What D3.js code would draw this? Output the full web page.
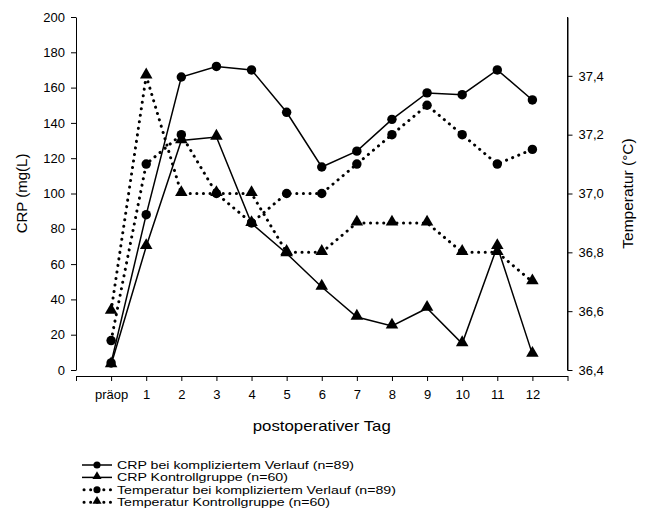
<!DOCTYPE html>
<html>
<head>
<meta charset="utf-8">
<script src="https://cdn.jsdelivr.net/npm/d3@7"></script>
<style>
  body { margin: 0; background: #fff; }
  svg text { font-family: "Liberation Sans", Arial, sans-serif; fill: #000; }
  .axis path, .axis line { stroke: #000; stroke-width: 1; }
</style>
</head>
<body>
<script>
// categories on the x axis
var days = ['präop', '1', '2', '3', '4', '5', '6', '7', '8', '9', '10', '11', '12'];

// CRP (mg/L), left axis
var crpKompl   = [4, 88, 166, 172, 170, 146, 115, 124, 142, 157, 156, 170, 153];
var crpKontr   = [3, 70, 130, 132, 83, 66, 47, 30, 25, 35, 15, 70, 9];

// Temperatur (°C), right axis
var tempKompl  = [36.5, 37.1, 37.2, 37.0, 36.9, 37.0, 37.0, 37.1, 37.2, 37.3, 37.2, 37.1, 37.15];
var tempKontr  = [36.6, 37.4, 37.0, 37.0, 37.0, 36.8, 36.8, 36.9, 36.9, 36.9, 36.8, 36.8, 36.7];

var crpTicks  = [0, 20, 40, 60, 80, 100, 120, 140, 160, 180, 200];
var tempTicks = [36.4, 36.6, 36.8, 37.0, 37.2, 37.4];

var seriesNames = [
    'CRP bei kompliziertem Verlauf (n=89)',
    'CRP Kontrollgruppe (n=60)',
    'Temperatur bei kompliziertem Verlauf (n=89)',
    'Temperatur Kontrollgruppe (n=60)'
];

var W = 648, H = 527;
var plot = { left: 76, right: 567.5, top: 17, bottom: 370, xAxisY: 376 };

var svg = d3.select('body').append('svg')
    .attr('width', W)
    .attr('height', H);

// x: one slot before präop and one after 12
var xScale = d3.scaleLinear().domain([-1, days.length]).range([plot.left, plot.right]);
var yCrp   = d3.scaleLinear().domain([0, 200]).range([plot.bottom, plot.top]);
var yTemp  = d3.scaleLinear().domain([36.4, 37.6]).range([plot.bottom, plot.top]);

// x axis: end ticks without labels plus one tick per day
var xTickVals = d3.range(-1, days.length + 1);
svg.append('g')
    .attr('class', 'axis')
    .attr('transform', 'translate(0,' + plot.xAxisY + ')')
    .call(d3.axisBottom(xScale)
        .tickValues(xTickVals)
        .tickSizeInner(5).tickSizeOuter(0)
        .tickPadding(9)
        .tickFormat(function(d) { return (d >= 0 && d < days.length) ? days[d] : ''; }))
    .selectAll('text')
    .style('font-size', '13px');

// left axis
svg.append('g')
    .attr('class', 'axis')
    .attr('transform', 'translate(' + plot.left + ',0)')
    .call(d3.axisLeft(yCrp)
        .tickValues(crpTicks)
        .tickSizeInner(5).tickSizeOuter(0)
        .tickPadding(6))
    .selectAll('text')
    .style('font-size', '13px');

// right axis
svg.append('g')
    .attr('class', 'axis')
    .attr('transform', 'translate(' + plot.right + ',0)')
    .call(d3.axisRight(yTemp)
        .tickValues(tempTicks)
        .tickSizeInner(5).tickSizeOuter(0)
        .tickPadding(6)
        .tickFormat(function(d) { return d3.format('.1f')(d).replace('.', ','); }))
    .selectAll('text')
    .style('font-size', '13px');

// make sure axis lines span the whole plot height
svg.append('line')
    .attr('x1', plot.right).attr('x2', plot.right)
    .attr('y1', plot.top).attr('y2', plot.bottom)
    .attr('stroke', '#000');

// axis titles
svg.append('text')
    .attr('transform', 'translate(22,' + ((plot.top + plot.bottom) / 2) + ') rotate(-90)')
    .attr('text-anchor', 'middle')
    .attr('dy', '0.35em')
    .style('font-size', '15px')
    .text('CRP (mg(L)');

svg.append('text')
    .attr('transform', 'translate(628,' + ((plot.top + plot.bottom) / 2) + ') rotate(-90)')
    .attr('text-anchor', 'middle')
    .attr('dy', '0.35em')
    .style('font-size', '15.5px')
    .text('Temperatur (°C)');

svg.append('text')
    .attr('x', (plot.left + plot.right) / 2)
    .attr('y', 426)
    .attr('text-anchor', 'middle')
    .attr('dy', '0.35em')
    .style('font-size', '15px')
    .attr('textLength', 138)
    .attr('lengthAdjust', 'spacingAndGlyphs')
    .text('postoperativer Tag');

// series definitions
var series = [
    { values: crpKompl,  y: yCrp,  marker: 'circle',   dotted: false },
    { values: crpKontr,  y: yCrp,  marker: 'triangle', dotted: false },
    { values: tempKompl, y: yTemp, marker: 'circle',   dotted: true  },
    { values: tempKontr, y: yTemp, marker: 'triangle', dotted: true  }
];

var circleSym   = d3.symbol().type(d3.symbolCircle).size(70);
var triangleSym = d3.symbol().type(d3.symbolTriangle).size(68);

function styleLine(sel, dotted) {
    sel.attr('fill', 'none')
        .attr('stroke', '#000');
    if (dotted) {
        sel.attr('stroke-width', 3)
            .attr('stroke-linecap', 'round')
            .attr('stroke-dasharray', '0.1 6.5');
    } else {
        sel.attr('stroke-width', 1.5);
    }
}

// draw dotted series first, then solid on top
[2, 3, 0, 1].forEach(function(si) {
    var s = series[si];
    var line = d3.line()
        .x(function(d, i) { return xScale(i); })
        .y(function(d) { return s.y(d); });
    svg.append('path')
        .datum(s.values)
        .attr('d', line)
        .call(styleLine, s.dotted);
});

[2, 3, 0, 1].forEach(function(si) {
    var s = series[si];
    svg.append('g').selectAll('path')
        .data(s.values)
        .join('path')
        .attr('transform', function(d, i) {
            var dy = s.marker === 'triangle' ? -1 : 0;
            return 'translate(' + xScale(i) + ',' + (s.y(d) + dy) + ')';
        })
        .attr('d', s.marker === 'circle' ? circleSym : triangleSym)
        .attr('fill', '#000');
});

// legend (reference text is wide and short, so stretch it horizontally)
var legend = svg.append('g').attr('transform', 'translate(82,465)');
var stretch = null;
series.forEach(function(s, i) {
    var row = legend.append('g').attr('transform', 'translate(0,' + (i * 12.4) + ')');
    row.append('line')
        .attr('x1', s.dotted ? 2 : 0).attr('x2', 30)
        .attr('y1', 0).attr('y2', 0)
        .call(styleLine, s.dotted);
    row.append('path')
        .attr('transform', 'translate(15,' + (s.marker === 'triangle' ? -1 : 0) + ')')
        .attr('d', s.marker === 'circle'
            ? d3.symbol().type(d3.symbolCircle).size(40)
            : d3.symbol().type(d3.symbolTriangle).size(36))
        .attr('fill', '#000');
    var t = row.append('text')
        .attr('x', 35)
        .attr('dy', '0.35em')
        .style('font-size', '11px')
        .text(seriesNames[i]);
    var len = t.node().getComputedTextLength();
    if (stretch === null) stretch = 237 / len;
    t.attr('textLength', len * stretch)
        .attr('lengthAdjust', 'spacingAndGlyphs');
});
</script>
</body>
</html>
